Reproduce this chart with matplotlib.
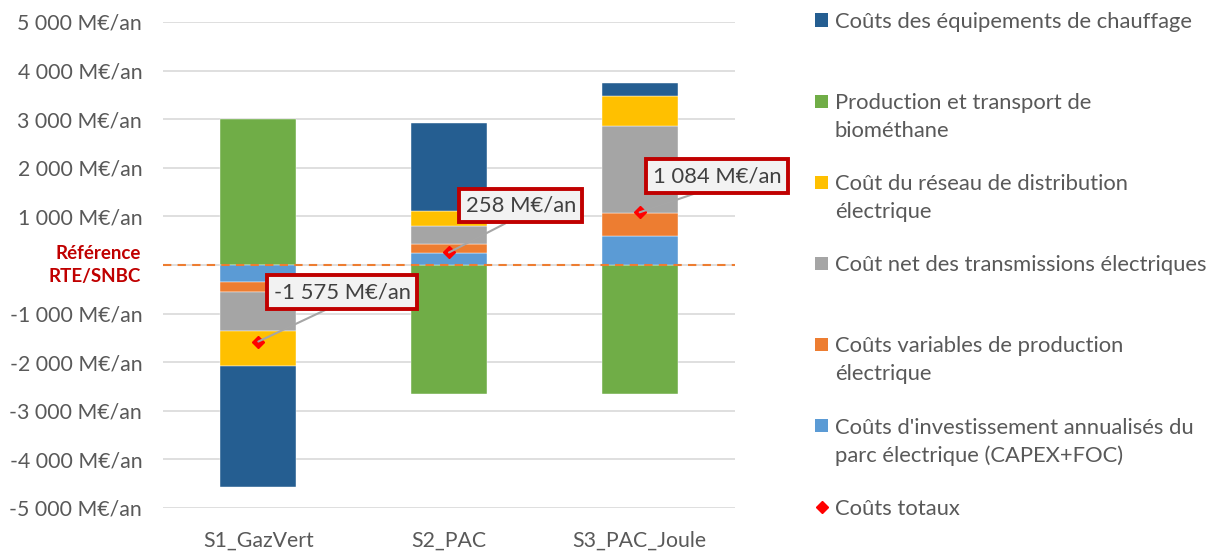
import matplotlib
matplotlib.use("Agg")
import matplotlib.pyplot as plt
from matplotlib.patches import Rectangle
from matplotlib.lines import Line2D
import matplotlib.transforms as mtransforms
import numpy as np

plt.rcParams['font.family'] = ['Lato', 'DejaVu Sans']

# Scenarios and cost components (M€/an, relative to the RTE/SNBC reference)
scenarios = ["S1_GazVert", "S2_PAC", "S3_PAC_Joule"]

equipements = [-2496, 1807, 261]
biomethane = [3000, -2660, -2660]
reseau_distribution = [-720, 309, 617]
transmissions = [-797, 377, 1790]
variables_production = [-206, 172, 479]
investissement_parc = [-356, 253, 597]

couts_totaux = [-1575, 258, 1084]

series_labels = [
    "Coûts des équipements de chauffage",
    "Production et transport de\nbiométhane",
    "Coût du réseau de distribution\nélectrique",
    "Coût net des transmissions électriques",
    "Coûts variables de production\nélectrique",
    "Coûts d'investissement annualisés du\nparc électrique (CAPEX+FOC)",
]
series_values = [equipements, biomethane, reseau_distribution,
                 transmissions, variables_production, investissement_parc]
series_colors = ["#255E91", "#70AD47", "#FFC000", "#A5A5A5", "#ED7D31", "#5B9BD5"]
total_label = "Coûts totaux"

y_ticks = list(range(-5000, 5001, 1000))

TEXT_GREY = "#595959"
DARK_RED = "#C00000"

W, H = 1218, 551
fig = plt.figure(figsize=(W / 100, H / 100), dpi=100)
ax = fig.add_axes([163 / W, 1 - 508 / H, (735 - 163) / W, (508 - 22) / H])

x = np.arange(len(scenarios))
bar_w = 0.40

# Stack from zero outwards: biomethane first, then electricity components, equipment last
stack_order = [1, 5, 4, 3, 2, 0]
pos = np.zeros(len(scenarios))
neg = np.zeros(len(scenarios))
for i in stack_order:
    vals = np.array(series_values[i], dtype=float)
    base = np.where(vals >= 0, pos, neg)
    ax.bar(x, vals, bar_w, bottom=base, color=series_colors[i],
           edgecolor="white", linewidth=0.3, zorder=2)
    pos = np.where(vals >= 0, pos + vals, pos)
    neg = np.where(vals < 0, neg + vals, neg)

# Reference line at zero
ax.axhline(0, color="#ED7D31", linestyle=(0, (4, 3)), linewidth=1.5, zorder=3)

# Totals and their callouts
ax.plot(x, couts_totaux, linestyle="none", marker="D", markersize=6.5,
        color="#FF0000", zorder=5)

label_offsets = [(0.44, -556), (0.376, 1224), (0.405, 1831)]
for xi, tot, (dx, ly) in zip(x, couts_totaux, label_offsets):
    txt = f"{tot:,}".replace(",", " ") + " M€/an"
    ax.annotate(txt, xy=(xi, tot), xytext=(xi + dx, ly),
                ha="center", va="center", fontsize=15.8, color="#404040",
                annotation_clip=False, zorder=6,
                bbox=dict(boxstyle="square,pad=0.3", facecolor="#F2F2F2",
                          edgecolor=DARK_RED, linewidth=2.8),
                arrowprops=dict(arrowstyle="-", color="#A6A6A6", linewidth=1.5,
                                shrinkA=0, shrinkB=0, relpos=(0.5, 0.0)))

# Axes styling
ax.set_xlim(-0.5, 2.5)
ax.set_ylim(-5000, 5000)
ax.set_yticks(y_ticks)
ytl = []
for v in y_ticks:
    if v == 0:
        ytl.append("")
    else:
        ytl.append(f"{v:,}".replace(",", " ") + " M€/an")
ax.set_yticklabels(ytl)
ax.tick_params(axis="y", length=0, pad=15, labelsize=15.3, labelcolor=TEXT_GREY)
ax.set_xticks(x)
ax.set_xticklabels(scenarios)
ax.tick_params(axis="x", length=0, pad=16, labelsize=15.3, labelcolor=TEXT_GREY)
ax.grid(axis="y", color="#D9D9D9", linewidth=1.2, zorder=0)
ax.set_axisbelow(True)
for s in ax.spines.values():
    s.set_visible(False)

# Reference label in place of the zero tick
ref_trans = mtransforms.blended_transform_factory(fig.transFigure, ax.transData)
ax.text(141 / W, 0, "Référence\nRTE/SNBC", transform=ref_trans,
        ha="right", va="center", fontsize=13.5, fontweight="bold",
        color=DARK_RED, linespacing=1.45)

# Legend, one slot per entry
slot_top = 20
slot_pitch = 81.1
for k, (lab, col) in enumerate(zip(series_labels, series_colors)):
    yc = slot_top + k * slot_pitch
    fig.patches.append(Rectangle((815 / W, 1 - (yc + 6.5) / H), 13 / W, 13 / H,
                                 transform=fig.transFigure, facecolor=col,
                                 edgecolor="none"))
    for j, line in enumerate(lab.split("\n")):
        fig.text(835 / W, 1 - (yc + j * 28) / H, line, ha="left",
                 va="center_baseline", fontsize=15.8, color=TEXT_GREY)
yc = slot_top + 6 * slot_pitch
fig.lines.append(Line2D([821.5 / W], [1 - yc / H], transform=fig.transFigure,
                        marker="D", markersize=6.5, color="#FF0000",
                        linestyle="none"))
fig.text(835 / W, 1 - yc / H, total_label, ha="left", va="center_baseline",
         fontsize=15.8, color=TEXT_GREY)

fig.savefig("out.png", dpi=100, facecolor="white")
